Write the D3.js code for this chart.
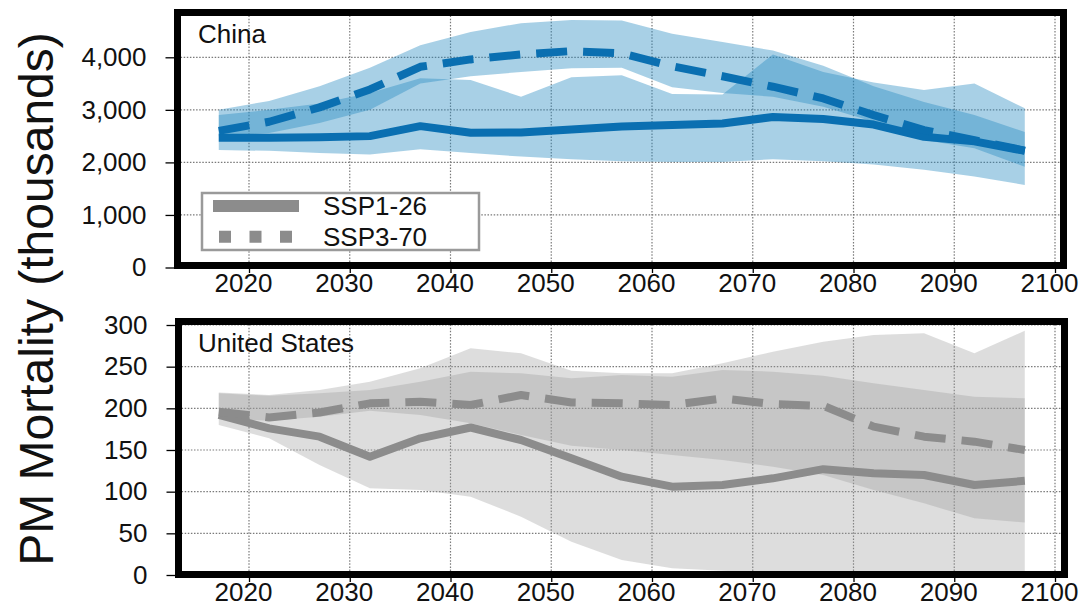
<!DOCTYPE html>
<html><head><meta charset="utf-8">
<script src="https://cdn.jsdelivr.net/npm/d3@7"></script>
<style>body{margin:0;background:#fff}svg text{font-family:"Liberation Sans",Arial,Helvetica,sans-serif;fill:#111}</style>
</head><body><svg id="c" width="1081" height="606"></svg>
<script>
// ---------- data ----------
const years = [2017,2022,2027,2032,2037,2042,2047,2052,2057,2062,2067,2072,2077,2082,2087,2092,2097];
const xTickValues = [2020,2030,2040,2050,2060,2070,2080,2090,2100];

// China (thousands)
const chinaSSP126     = [2470,2470,2480,2500,2690,2565,2570,2628,2685,2710,2740,2865,2824,2720,2488,2400,2220];
const chinaSSP126Low  = [2235,2220,2180,2150,2250,2180,2110,2060,2020,2010,2010,2060,2020,1960,1860,1730,1570];
const chinaSSP126High = [2900,3000,3120,3320,3600,3566,3250,3620,3660,3300,3290,4055,3720,3520,3380,3500,3030];
const chinaSSP370     = [2600,2773,3047,3389,3819,3960,4055,4118,4074,3830,3640,3440,3217,2900,2615,2425,2225];
const chinaSSP370Low  = [2500,2560,2750,3000,3500,3640,3720,3790,3800,3430,3320,3250,3058,2773,2425,2267,1917];
const chinaSSP370High = [3000,3170,3450,3800,4230,4480,4650,4710,4700,4450,4290,4130,3840,3450,3150,2900,2580];
const chinaTicks = [0,1000,2000,3000,4000];

// United States (thousands)
const usSSP126     = [192,176,166,142,164,177,162,140,118,106,108,116,127,122,120,108,113];
const usSSP126Low  = [180,164,132,104,102,94,70,40,18,8,5,3,2,2,1,1,1];
const usSSP126High = [218,215,218,222,232,244,242,236,240,238,246,244,239,230,222,214,212];
const usSSP370     = [196,189,195,206,208,204,216,207,206,204,212,205,203,178,166,160,150];
const usSSP370Low  = [188,185,190,197,192,182,168,155,150,144,138,130,120,102,86,68,63];
const usSSP370High = [219,216,222,232,248,272,266,245,242,242,254,268,280,288,290,266,293];
const usTicks = [0,50,100,150,200,250,300];

const scenarios = ["SSP1-26","SSP3-70"];

// ---------- drawing ----------
const svg = d3.select("#c");
const x = d3.scaleLinear().domain([2020,2100]).range([249,1055]);

function panel(o){
  const g = svg.append("g");
  const y = d3.scaleLinear().domain(o.domain).range(o.range);
  const clipId = "clip"+o.id;
  svg.append("clipPath").attr("id",clipId).append("rect")
    .attr("x",o.box[0]+3.5).attr("y",o.box[1]+3.5)
    .attr("width",o.box[2]-o.box[0]-7).attr("height",o.box[3]-o.box[1]-7);
  const inner = g.append("g").attr("clip-path",`url(#${clipId})`);
  // grid
  inner.append("g").selectAll("line").data(xTickValues).join("line")
    .attr("x1",d=>x(d)).attr("x2",d=>x(d)).attr("y1",o.box[1]).attr("y2",o.box[3])
    .attr("stroke","#7a7a7a").attr("stroke-width",1.2).attr("stroke-dasharray","1.5,1.6");
  inner.append("g").selectAll("line").data(o.ticks).join("line")
    .attr("x1",o.box[0]).attr("x2",o.box[2]).attr("y1",d=>y(d)).attr("y2",d=>y(d))
    .attr("stroke","#7a7a7a").attr("stroke-width",1.2).attr("stroke-dasharray","1.5,1.6");
  // bands
  const area = d3.area().x(d=>x(d.year)).y0(d=>y(d.lo)).y1(d=>y(d.hi));
  o.bands.forEach(b=>{
    const data = years.map((yr,i)=>({year:yr,lo:b.lo[i],hi:b.hi[i]}));
    inner.append("path").datum(data).attr("d",area)
      .attr("fill",o.bandColor).attr("fill-opacity",o.bandOpacity);
  });
  // lines
  const line = d3.line().x(d=>x(d.year)).y(d=>y(d.v));
  o.lines.forEach(l=>{
    const data = years.map((yr,i)=>({year:yr,v:l.values[i]}));
    inner.append("path").datum(data).attr("d",line)
      .attr("fill","none").attr("stroke",o.lineColor).attr("stroke-width",8)
      .attr("stroke-linejoin","round").attr("stroke-linecap","butt")
      .attr("stroke-dasharray",l.dash?"31,16":null);
  });
  // frame
  g.append("rect").attr("x",o.box[0]).attr("y",o.box[1])
    .attr("width",o.box[2]-o.box[0]).attr("height",o.box[3]-o.box[1])
    .attr("fill","none").attr("stroke","#000").attr("stroke-width",7);
  // y axis
  const ya = g.append("g").attr("transform",`translate(${o.box[0]-3},0)`)
    .call(d3.axisLeft(y).tickValues(o.ticks).tickFormat(d3.format(",")).tickSize(9).tickPadding(19));
  ya.select(".domain").remove();
  ya.selectAll(".tick line").attr("stroke","#000").attr("stroke-width",1.3);
  ya.selectAll("text").attr("font-size",26).attr("font-family",null).attr("fill","#111");
  ya.attr("font-family",null).attr("font-size",null);
  // x axis
  const xa = g.append("g").attr("transform",`translate(0,${o.box[3]+3.5})`)
    .call(d3.axisBottom(x).tickValues(xTickValues).tickFormat(d3.format("d")).tickSize(4).tickPadding(0.5));
  xa.select(".domain").remove();
  xa.selectAll(".tick line").attr("stroke","#000").attr("stroke-width",1.3);
  xa.selectAll("text").attr("font-size",26).attr("dx",-6).attr("fill","#111");
  xa.attr("font-family",null).attr("font-size",null);
  // title
  g.append("text").attr("x",198).attr("y",o.titleY).attr("font-size",26).text(o.title);
  return g;
}

panel({id:"cn", title:"China", titleY:42.5,
  domain:[0,4000], range:[267.5,57.3], box:[177.5,12.5,1063.5,265.5], ticks:chinaTicks,
  bandColor:"rgb(38,138,193)", bandOpacity:0.4, lineColor:"#0a6fb1",
  bands:[{lo:chinaSSP126Low,hi:chinaSSP126High},{lo:chinaSSP370Low,hi:chinaSSP370High}],
  lines:[{values:chinaSSP126,dash:false},{values:chinaSSP370,dash:true}]
});
panel({id:"us", title:"United States", titleY:351.5,
  domain:[0,300], range:[575,325], box:[178.5,321.5,1064.5,574.5], ticks:usTicks,
  bandColor:"rgb(156,156,156)", bandOpacity:0.34, lineColor:"#8c8c8c",
  bands:[{lo:usSSP126Low,hi:usSSP126High},{lo:usSSP370Low,hi:usSSP370High}],
  lines:[{values:usSSP126,dash:false},{values:usSSP370,dash:true}]
});

// legend
const lg = svg.append("g");
lg.append("rect").attr("x",202).attr("y",193).attr("width",277).attr("height",57)
  .attr("fill","#fff").attr("stroke","#9a9a9a").attr("stroke-width",2.5);
const legendRows = [{y:206,dash:null},{y:236.7,dash:"12,18.5"}];
scenarios.forEach((s,i)=>{
  const r = legendRows[i];
  lg.append("line").attr("x1",i?219:213).attr("x2",i?293:299).attr("y1",r.y).attr("y2",r.y)
    .attr("stroke","#8c8c8c").attr("stroke-width",12).attr("stroke-dasharray",r.dash);
  lg.append("text").attr("x",323).attr("y",r.y+9.3).attr("font-size",26).text(s);
});

// y-axis title
svg.append("text").attr("transform","translate(53,299) rotate(-90)")
  .attr("text-anchor","middle").attr("font-size",48).text("PM Mortality (thousands)");
</script></body></html>
